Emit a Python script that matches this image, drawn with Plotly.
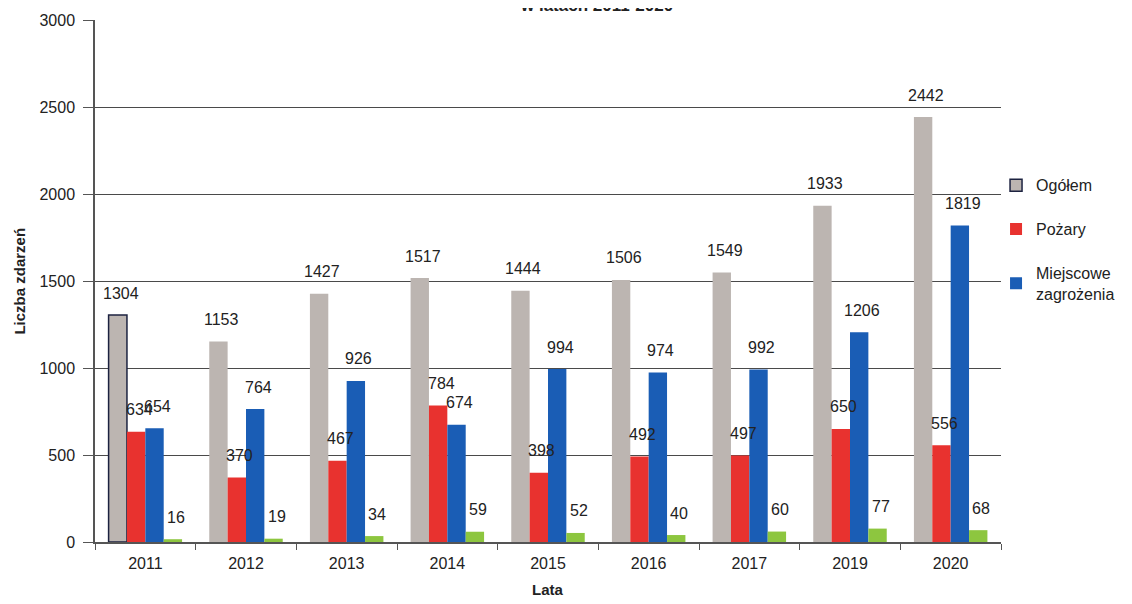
import plotly.graph_objects as go

years = ["2011", "2012", "2013", "2014", "2015", "2016", "2017", "2019", "2020"]
ogolem = [1304, 1153, 1427, 1517, 1444, 1506, 1549, 1933, 2442]
pozary = [634, 370, 467, 784, 398, 492, 497, 650, 556]
miejscowe = [654, 764, 926, 674, 994, 974, 992, 1206, 1819]
alarmy = [16, 19, 34, 59, 52, 40, 60, 77, 68]
y_ticks = [0, 500, 1000, 1500, 2000, 2500, 3000]

series = [
    ("Ogółem", ogolem, "#bcb5b1", True),
    ("Pożary", pozary, "#e8322f", True),
    ("Miejscowe<br>zagrożenia", miejscowe, "#1a5db5", True),
    ("Inne", alarmy, "#8dc63f", False),
]

FONT = "Liberation Sans, Arial, sans-serif"
TXT = "#222222"
# figure sits at (8, 8) inside the page (default body margin)
W, H = 1124, 596
L, R, T, B = 87, 124, 12, 62
plot_w = W - L - R
plot_h = H - T - B
bargap = 0.27
n = len(series)
cat_w = plot_w / len(years)
bar_w = cat_w * (1 - bargap) / n

fig = go.Figure()
for i, (name, vals, color, show) in enumerate(series):
    line_w = [1.5 if (i == 0 and j == 0) else 0 for j in range(len(vals))]
    fig.add_trace(go.Bar(
        x=years, y=vals, name=name, marker_color=color,
        marker_line_color="#1c2240", marker_line_width=line_w,
        showlegend=show, legendgroup=str(i),
    ))
    offset = (i - (n - 1) / 2) * bar_w
    for j, v in enumerate(vals):
        fig.add_annotation(
            x=j, y=v, xref="x", yref="y", text=str(v), showarrow=False,
            xshift=offset + 3, yshift=22,
            font=dict(family=FONT, size=16, color=TXT),
        )

# partially visible title (cut off at the top as in the scan)
fig.add_annotation(
    x=(600 - 8 - L) / plot_w, y=1 + (T + 2) / plot_h, xref="paper", yref="paper",
    text="<b>w latach 2011-2020</b>", showarrow=False, xanchor="center", yanchor="middle",
    font=dict(family=FONT, size=17, color=TXT),
)
# axis titles
fig.add_annotation(
    x=(18 - 8 - L) / plot_w, y=0.5, xref="paper", yref="paper",
    text="<b>Liczba zdarzeń</b>", showarrow=False, textangle=-90,
    xanchor="center", yanchor="middle",
    font=dict(family=FONT, size=15, color=TXT),
)
fig.add_annotation(
    x=(552 - 8 - L) / plot_w, y=-(590 - 8 - (T + plot_h)) / plot_h, xref="paper", yref="paper",
    text="<b>Lata</b>", showarrow=False, xanchor="center", yanchor="middle",
    font=dict(family=FONT, size=15, color=TXT),
)

fig.update_layout(
    width=W, height=H,
    margin=dict(l=L, r=R, t=T, b=B),
    paper_bgcolor="white", plot_bgcolor="white",
    barmode="group", bargap=bargap, bargroupgap=0,
    font=dict(family=FONT, size=15, color=TXT),
    legend=dict(
        x=(1003 - 8 - L) / plot_w, y=0.716, xanchor="left", yanchor="top",
        font=dict(family=FONT, size=16, color=TXT),
        tracegroupgap=20, itemwidth=30, traceorder="grouped",
        bgcolor="rgba(0,0,0,0)",
    ),
    showlegend=True,
)
fig.update_xaxes(
    type="category", range=[-0.5, len(years) - 0.5], automargin=False,
    showline=True, linecolor="#555555", linewidth=1.5,
    ticks="outside", ticklen=6, tickcolor="#555555", tickson="boundaries",
    tickfont=dict(family=FONT, size=16, color=TXT), tickangle=0,
    ticklabelstandoff=6,
    showgrid=False,
)
fig.update_yaxes(
    range=[0, 3000], tickvals=y_ticks, automargin=False,
    showline=True, linecolor="#555555", linewidth=1.5,
    ticks="outside", ticklen=10, tickcolor="#555555", ticklabelstandoff=5,
    showgrid=True, gridcolor="#4a4a4a", gridwidth=1.3,
    tickfont=dict(family=FONT, size=16, color=TXT),
    zeroline=False,
)

# scan edge line at the far left
fig.add_shape(type="line", xref="paper", yref="paper",
              x0=(5 - 8 - L) / plot_w, x1=(5 - 8 - L) / plot_w,
              y0=-(B + 8) / plot_h, y1=1 + (T + 8) / plot_h,
              line=dict(color="#9a4a5a", width=2))

fig.write_html("out.html")
